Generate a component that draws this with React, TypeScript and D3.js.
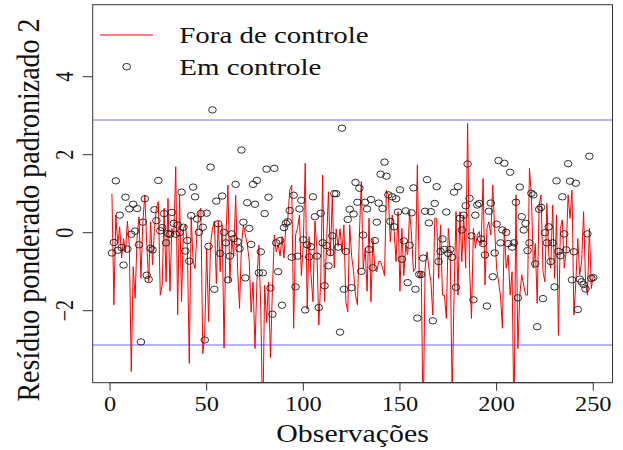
import React from "react";
import * as d3 from "d3";

// "Fora de controle" series (red line), observations 1..250
const foraControle: number[] = [
  1.0, -1.85, 0.45, -0.3, 0.15, -0.65, -0.15, -0.5, 0.3, -0.35,
  -3.56, -0.87, -1.68, -0.1, 0.4, -1.17, 0.28, 0.97, -0.27, -1.26,
  0.28, -0.83, 0.11, 0.63, 0.8, -1.6, -1.34, 0.63, -1.26, 0.88,
  -1.5, 0.11, -0.06, 1.69, -2.11, 0.97, -1.77, 0.11, 0.2, -0.3,
  -3.35, 0.41, -0.74, -0.92, 0.03, 0.54, 0.63, -3.1, -2.6, -0.4,
  -2.28, -0.3, 0.1, 0.3, -1.3, 0.3, -1.0, 0.2, -2.96, -0.06,
  1.22, -1.26, -0.15, -0.6, 0.96, -0.91, -1.94, -0.32, 0.2, -0.05,
  -0.3, -0.7, -2.04, -1.26, -2.97, -1.26, -0.32, -1.94, -5.0, -1.35,
  -2.3, -1.26, -3.2, -1.5, -0.06, -0.49, -0.3, -0.6, -0.1, -0.65,
  0.2, 0.37, 1.1, 1.22, -2.45, -0.06, 0.11, 0.45, -1.1, -0.3,
  1.78, -1.96, -0.1, -1.1, -1.77, 0.3, -0.4, -2.37, -1.26, 1.48,
  -1.77, -0.3, 1.05, -0.6, 0.95, -0.9, 0.1, -0.35, 0.1, -0.5,
  0.2, -1.77, -2.03, 0.2, -0.6, -1.0, -1.6, -1.85, -0.06, 1.31,
  -0.91, -0.4, -1.5, 0.37, -1.77, -0.15, -0.91, -1.0, -0.74, -0.74,
  -0.9, -1.1, 1.09, 0.97, -0.23, 0.45, 0.03, -0.74, 0.54, -1.5,
  0.11, -1.1, -0.32, -0.57, 0.54, -0.06, -1.0, -0.91, 1.74, -1.17,
  -1.0, -5.0, -0.91, -0.49, -0.91, -1.26, -2.11, 0.37, 0.37, -1.17,
  0.2, -1.6, -1.6, -2.2, 0.11, -0.49, -4.2, -1.6, 0.54, -1.6,
  0.54, -0.74, 0.45, -0.91, 2.8, -0.91, -2.2, 0.11, -0.4, -0.06,
  0.03, -0.32, 1.39, -1.34, 0.11, 0.28, -0.06, 1.22, 0.11, -0.91,
  -1.26, -1.6, -2.45, 0.11, -0.91, -0.57, -1.6, -1.0, -5.0, 0.97,
  -2.97, -1.6, -1.08, -1.34, -1.6, -1.6, 1.65, 0.97, -0.91, -0.28,
  -1.81, 0.71, 0.97, -1.0, -1.26, 0.75, -0.57, -0.91, 0.71, -1.17,
  0.45, -2.63, 0.11, 0.33, -0.91, -0.49, 0.97, 0.37, 1.09, -2.11,
  -1.26, -0.15, -1.08, -0.74, 0.54, -1.26, -1.6, 0.11, -1.43, -1.1,
];

// "Em controle" series (open circles), observations 1..250
const emControle: number[] = [
  -0.52, -0.25, 1.33, -0.45, 0.45, -0.38, -0.83, 0.91, -0.42, 0.61,
  -0.04, 0.73, 0.04, 0.62, -0.31, -2.8, 0.27, 0.87, -1.09, -1.2,
  -0.4, -0.44, 0.59, 0.31, 1.34, 0.05, 0.13, 0.49, -0.26, -0.02,
  -0.04, 0.52, 0.24, -0.04, 0.2, 0.0, 1.04, 0.14, -0.47, -0.2,
  -0.73, 0.44, 1.17, 0.92, 0.35, 0.01, 0.49, 0.14, -2.75, 0.5,
  -0.35, 1.68, 3.15, -1.45, 0.81, 0.23, -0.53, 0.94, 0.01, -0.26,
  -1.21, -0.6, -0.03, -0.15, 1.24, -0.23, -0.41, 2.12, 0.27, -1.16,
  0.77, 0.11, -0.3, 1.24, 0.73, 1.34, -1.03, -0.49, -1.03, 0.49,
  1.63, 0.91, -1.42, -2.09, 1.65, -0.26, -1.0, -0.2, -1.86, 0.13,
  0.24, 0.28, 0.57, -0.63, 0.96, -1.39, -0.6, 0.61, 0.83, -0.18,
  -1.98, -0.31, -0.62, -0.36, 0.92, 0.41, -0.6, -1.92, 0.5, -0.26,
  -1.36, -0.33, -0.85, -0.51, -0.08, 1.0, 1.0, -0.37, -2.55, 2.68,
  -1.45, -0.48, 0.34, 0.6, -1.41, 0.48, 1.29, 0.78, 1.14, -0.99,
  -0.06, 0.78, 0.61, -0.43, 0.85, -0.9, -0.2, 0.27, 0.76, 1.5,
  0.62, 1.81, 1.45, 0.97, 0.29, 0.92, 0.15, 0.87, 0.53, 1.1,
  -0.68, -0.21, 0.56, -1.28, -0.32, 0.51, 1.15, -1.45, -2.19, -1.07,
  -1.07, -0.65, 0.55, 1.36, 0.25, 0.54, -2.26, 0.75, 1.18, -0.74,
  -0.48, -0.16, -0.43, 0.53, -0.53, -0.43, -0.63, 1.04, -1.4, 1.18,
  0.37, 0.07, 0.45, 0.69, 1.76, 0.88, -0.08, -1.72, 0.45, 0.71,
  0.75, -0.16, -0.28, -0.57, -1.88, 0.55, 0.76, -1.13, -0.52, 0.22,
  1.85, -0.26, 0.07, 1.78, 0.01, -0.28, 1.55, -0.37, -0.26, 0.78,
  -1.67, 1.17, 0.41, 0.07, 0.24, -0.46, -0.26, 1.01, 0.97, -0.8,
  -2.41, 0.6, 0.65, -1.69, 0.0, -0.26, 0.15, -0.74, -0.26, -1.39,
  1.33, -0.48, -0.59, 0.92, -0.03, -0.44, 1.77, 1.32, -1.21, -0.49,
  1.27, -1.97, -1.19, -1.26, -1.33, -1.44, -0.03, 1.96, -1.17, -1.15,
];

const xTicks: number[] = [0, 50, 100, 150, 200, 250];
const yTicks: number[] = [-2, 0, 2, 4];
const controlLimits: number[] = [2.89, -2.88];
const legendLabels: string[] = ["Fora de controle", "Em controle"];
const xTitle = "Observações";
const yTitle = "Resíduo ponderado padronizado 2";

const W = 623;
const H = 450;
const PL = 92.7;
const PR = 612.5;
const PT = 4.7;
const PB = 382.7;
const SX = 1.22; // horizontal glyph stretch of the reference
const FONT = "'Liberation Serif', 'Times New Roman', Times, serif";

export default function App() {
  const x = d3.scaleLinear().domain([-8.96, 259.96]).range([PL, PR]);
  const y = d3.scaleLinear().domain([-3.846, 5.846]).range([PB, PT]);

  const line = d3
    .line<number>()
    .x((_, i) => x(i + 1))
    .y((d) => y(d));

  const fmt = (v: number) => (v < 0 ? "\u2212" + Math.abs(v) : String(v));

  return (
    <svg
      width={W}
      height={H}
      style={{ position: "absolute", left: 0, top: 0, background: "#fff" }}
      fontFamily={FONT}
    >
      <defs>
        <clipPath id="plotClip">
          <rect x={PL} y={PT} width={PR - PL} height={PB - PT} />
        </clipPath>
      </defs>
      <rect x={0} y={0} width={W} height={H} fill="#fff" />

      {/* control limits */}
      {controlLimits.map((v, i) => (
        <line key={i} x1={PL} x2={PR} y1={y(v)} y2={y(v)} stroke="#6a6aff" strokeWidth={1.1} />
      ))}

      {/* out of control line */}
      <g clipPath="url(#plotClip)">
        <path d={line(foraControle) || ""} fill="none" stroke="#ff0000" strokeWidth={1} strokeLinejoin="miter" />
      </g>

      {/* in control points */}
      <g fill="none" stroke="#1a1a1a" strokeWidth={0.9}>
        {emControle.map((v, i) => (
          <ellipse key={i} cx={x(i + 1)} cy={y(v)} rx={3.8} ry={3.2} />
        ))}
      </g>

      {/* frame */}
      <rect x={PL} y={PT} width={PR - PL} height={PB - PT} fill="none" stroke="#333" strokeWidth={1} />

      {/* x axis */}
      <g stroke="#333" strokeWidth={1}>
        <line x1={x(xTicks[0])} x2={x(xTicks[xTicks.length - 1])} y1={PB} y2={PB} />
        {xTicks.map((t) => (
          <line key={t} x1={x(t)} x2={x(t)} y1={PB} y2={PB + 8} />
        ))}
      </g>
      {xTicks.map((t) => (
        <text
          key={t}
          transform={`translate(${x(t)},${410.5}) scale(${SX},1)`}
          textAnchor="middle"
          fontSize={20}
          fill="#111"
        >
          {fmt(t)}
        </text>
      ))}

      {/* y axis */}
      <g stroke="#333" strokeWidth={1}>
        {yTicks.map((t) => (
          <line key={t} x1={PL - 10} x2={PL} y1={y(t)} y2={y(t)} />
        ))}
      </g>
      {yTicks.map((t) => (
        <text
          key={t}
          transform={`translate(${72.5},${y(t)}) scale(${SX},1) rotate(-90)`}
          textAnchor="middle"
          fontSize={20}
          fill="#111"
        >
          {fmt(t)}
        </text>
      ))}

      {/* axis titles */}
      <text
        transform={`translate(${(PL + PR) / 2},${441.5}) scale(${SX},1)`}
        textAnchor="middle"
        fontSize={24.5}
        fill="#111"
      >
        {xTitle}
      </text>
      <text
        transform={`translate(${38.5},${210}) scale(1.15,1) rotate(-90)`}
        textAnchor="middle"
        fontSize={28}
        fill="#111"
      >
        {yTitle}
      </text>

      {/* legend */}
      <line x1={100} x2={153} y1={35} y2={35} stroke="#ff0000" strokeWidth={1} />
      <ellipse cx={126.7} cy={66.7} rx={3.9} ry={3.3} fill="none" stroke="#1a1a1a" strokeWidth={0.9} />
      <text transform={`translate(${179.3},${43.3}) scale(${SX},1)`} fontSize={23.7} fill="#111">
        {legendLabels[0]}
      </text>
      <text transform={`translate(${179.3},${75}) scale(${SX},1)`} fontSize={23.7} fill="#111">
        {legendLabels[1]}
      </text>
    </svg>
  );
}
